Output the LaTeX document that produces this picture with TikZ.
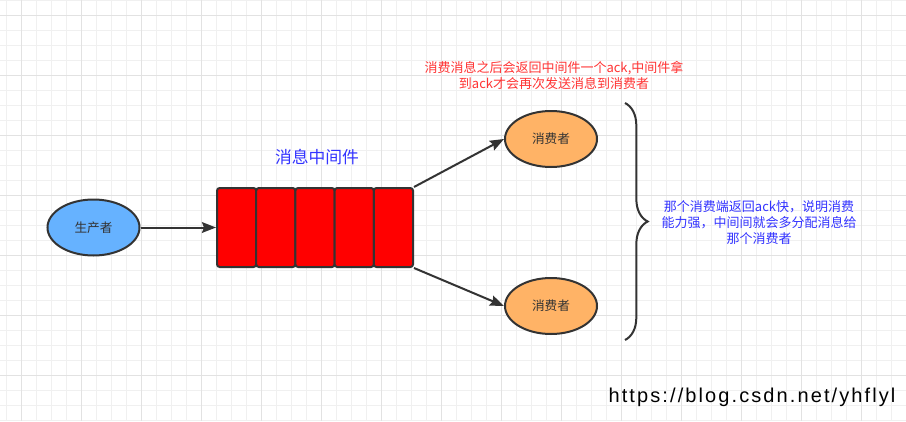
\documentclass[tikz,border=0pt]{standalone}
\usepackage{fontspec}
\setmainfont{Liberation Sans}
\newfontfamily\cjk{Noto Sans CJK SC}
\newfontfamily\urlfont[LetterSpace=10.5]{Liberation Sans}
\usepackage{tikz}
\usetikzlibrary{arrows.meta, shapes.geometric, decorations.pathreplacing}
\usepackage{xcolor}
\definecolor{gridlight}{HTML}{F0F0F0}
\definecolor{griddark}{HTML}{E2E2E2}
\definecolor{linegray}{HTML}{333333}
\definecolor{prodblue}{HTML}{66B2FF}
\definecolor{consorange}{HTML}{FFB366}
\definecolor{queuered}{HTML}{FF0000}
\definecolor{noteblue}{HTML}{3333FF}
\definecolor{notered}{HTML}{FF3333}

\begin{document}
\begin{tikzpicture}[x=0.75pt, y=-0.75pt, >={Stealth[length=10.5pt, width=8pt, inset=1.5pt]},
  actor/.style={ellipse, draw=linegray, line width=1.5pt, minimum width=69pt, minimum height=42pt,
    text=linegray, font=\cjk\fontsize{9.5}{11}\selectfont},
  cellbox/.style={draw=linegray, fill=queuered, line width=1.5pt, rounded corners=2pt,
    minimum width=29.4pt, minimum height=59.25pt, inner sep=0pt},
  link/.style={->, draw=linegray, line width=1.5pt},
  notetext/.style={align=center, font=\cjk\fontsize{9.75}{12}\selectfont}]
  \useasboundingbox (0,0) rectangle (906,421);
  \fill[white] (0,0) rectangle (906,421);

  % grid
  \foreach \x in {6,21,...,906}
    \draw[gridlight, line width=0.75pt] (\x,0) -- (\x,421);
  \foreach \y in {0,15,...,421}
    \draw[gridlight, line width=0.75pt] (0,\y) -- (906,\y);
  \foreach \x in {21,81,...,906}
    \draw[griddark, line width=0.75pt] (\x,0) -- (\x,421);
  \foreach \y in {15,75,...,421}
    \draw[griddark, line width=0.75pt] (0,\y) -- (906,\y);

  % producer, queue, consumers
  \node[actor, fill=prodblue] (producer) at (93.5,227.5) {生产者};
  \foreach \i in {1,...,5}
    \node[cellbox] (cell\i) at ({217+19.6+39.2*(\i-1)},227.5) {};
  \node[text=noteblue, font=\cjk\fontsize{12.6}{14}\selectfont] (mqtitle) at (317,157) {消息中间件};
  \node[actor, fill=consorange] (consumer1) at (551,139) {消费者};
  \node[actor, fill=consorange] (consumer2) at (551,306) {消费者};

  \draw[link] (producer) -- (cell1.west);
  \draw[link] (cell5.north east) -- (consumer1.west);
  \draw[link] (cell5.south east) -- (consumer2.west);

  % notes
  \node[notetext, text=notered] (acknote) at (554,75)
    {消费消息之后会返回中间件一个ack,中间件拿\\到ack才会再次发送消息到消费者};
  \coordinate (bracetop) at (625,103);
  \coordinate (bracebot) at (625,340);
  \draw[linegray, line width=1.5pt, decorate, decoration={brace, amplitude=17pt}]
    (bracetop) -- (bracebot);
  \node[notetext, text=noteblue] (speednote) at (759,223)
    {那个消费端返回ack快，说明消费\\能力强，中间间就会多分配消息给\\那个消费者};

  \node[font=\urlfont\fontsize{15}{18}\selectfont, text=black] (blogurl) at (752,397)
    {https://blog.csdn.net/yhflyl};
\end{tikzpicture}
\end{document}
